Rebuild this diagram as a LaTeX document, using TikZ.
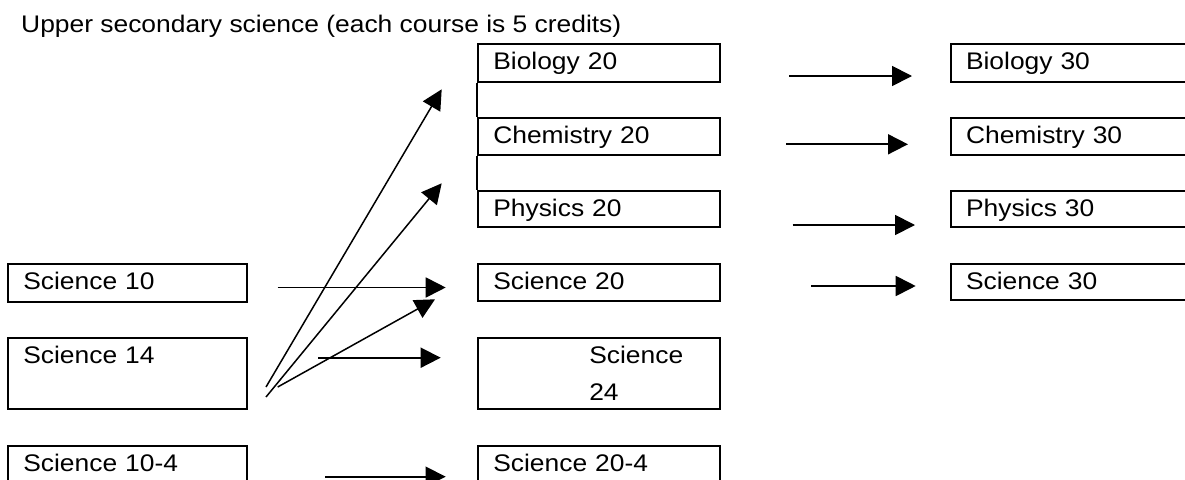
\documentclass[tikz,border=0pt]{standalone}
\usepackage{fontspec}
\setmainfont{Liberation Sans}[FakeStretch=1.1]
\usetikzlibrary{arrows.meta}
\begin{document}
\begin{tikzpicture}[x=1pt,y=-1pt,
  every node/.style={font=\fontsize{24}{36.7}\selectfont},
  box/.style={draw, line width=2pt, anchor=north west, inner xsep=15pt, inner ysep=0pt, align=left, text height=25.6pt, text depth=12.4pt},
  lbox/.style={box, text width=209pt},
  mbox/.style={box, text width=212pt},
  rbox/.style={box, text width=240pt},
  arr/.style={line width=1.8pt, -{Triangle[length=20pt,width=20pt]}},
  diag/.style={line width=1.5pt, -{Triangle[length=20pt,width=20pt]}}]
\clip (0,0) rectangle (1185,479);
\fill[white] (0,0) rectangle (1185,479);
\node[anchor=base west, inner sep=0pt] (title) at (21,32) {Upper secondary science (each course is 5 credits)};
% left column
\node[lbox] (s10) at (7.3,262.7) {Science 10};
\node[lbox, text depth=45.4pt] (s14) at (7.3,336.7) {Science 14};
\node[lbox] (s104) at (7.3,445) {Science 10-4};
% middle column
\node[mbox] (b20) at (477.3,42.7) {Biology 20};
\node[mbox, text depth=11.7pt] (c20) at (477.3,116.7) {Chemistry 20};
\node[mbox, text depth=10.4pt] (p20) at (477.3,190) {Physics 20};
\node[mbox, text depth=11.7pt] (s20) at (477.3,262.7) {Science 20};
\node[mbox, text depth=45.4pt] (s24) at (477.3,336.7) {\hspace*{96pt}Science\\\hspace*{96pt}24};
\node[mbox] (s204) at (477.3,445) {Science 20-4};
\draw[line width=2pt] (b20.south west) -- (c20.north west) (c20.south west) -- (p20.north west);
% right column
\node[rbox] (b30) at (950,42.7) {Biology 30};
\node[rbox, text depth=11.7pt] (c30) at (950,116.7) {Chemistry 30};
\node[rbox, text depth=10.4pt] (p30) at (950,190) {Physics 30};
\node[rbox, text depth=11.1pt] (s30) at (950,262.7) {Science 30};
% arrow end points
\coordinate (a1s) at (789,76);    \coordinate (a1e) at (912,76);
\coordinate (a2s) at (786,144.3); \coordinate (a2e) at (908,144.3);
\coordinate (a3s) at (792.7,225); \coordinate (a3e) at (915,225);
\coordinate (a4s) at (811,286);   \coordinate (a4e) at (915.7,286);
\coordinate (a5s) at (277.7,287.5); \coordinate (a5e) at (445.7,287.5);
\coordinate (a6s) at (318.3,357.7); \coordinate (a6e) at (440.7,357.7);
\coordinate (a7s) at (325,476.7); \coordinate (a7e) at (445.7,476.7);
\coordinate (d1s) at (266,387);   \coordinate (d1e) at (441.7,89.3);
\coordinate (d2s) at (266,397);   \coordinate (d2e) at (441.7,183.3);
\coordinate (d3s) at (277.7,387); \coordinate (d3e) at (435,299.3);
\draw[arr] (a1s) -- (a1e);
\draw[arr] (a2s) -- (a2e);
\draw[arr] (a3s) -- (a3e);
\draw[arr] (a4s) -- (a4e);
\draw[arr] (a5s) -- (a5e);
\draw[arr] (a6s) -- (a6e);
\draw[arr] (a7s) -- (a7e);
\draw[diag] (d1s) -- (d1e);
\draw[diag] (d2s) -- (d2e);
\draw[diag] (d3s) -- (d3e);
\end{tikzpicture}
\end{document}
